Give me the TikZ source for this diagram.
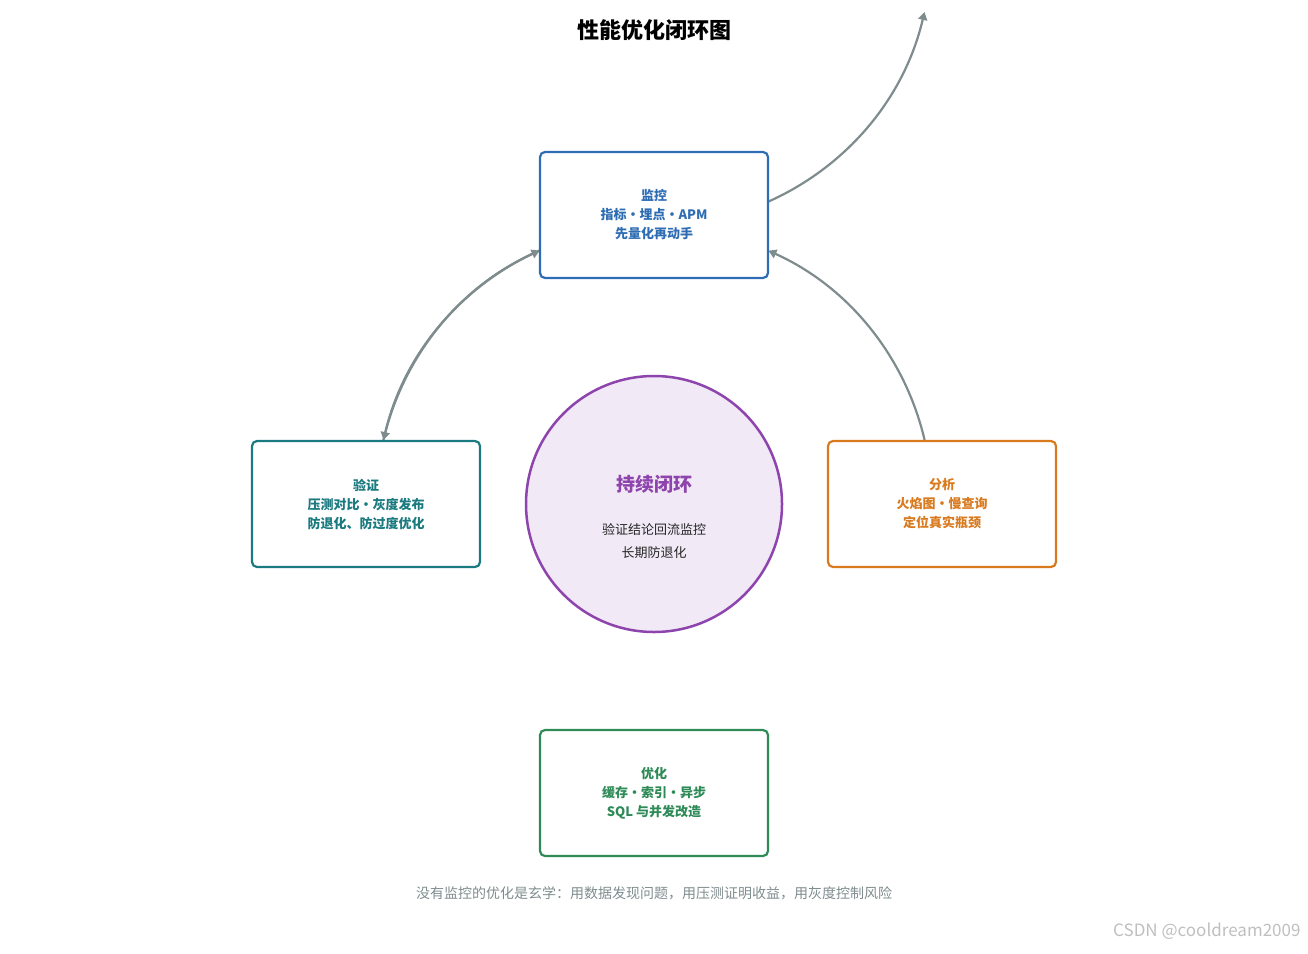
\documentclass[tikz,border=0pt]{standalone}
\usepackage{fontspec}
\setmainfont{Noto Sans CJK SC}
\usetikzlibrary{arrows.meta}
\definecolor{cb}{HTML}{2E6DB4}
\definecolor{co}{HTML}{D97A1E}
\definecolor{ct}{HTML}{1A7A80}
\definecolor{cg}{HTML}{2E8B57}
\definecolor{cp}{HTML}{8E44AD}
\definecolor{cpf}{HTML}{F1E9F6}
\definecolor{ca}{HTML}{7F8C8D}
\begin{document}
\begin{tikzpicture}[x=1pt,y=-1pt,
 box/.style={draw=#1,text=#1,line width=2.2pt,rounded corners=5pt,fill=white,minimum width=228pt,minimum height=126pt,align=center,font=\bfseries\fontsize{13}{19}\selectfont},
 arc/.style={draw=ca,line width=2.2pt,-{Triangle[length=8pt,width=9pt]}}]
\useasboundingbox (0,0) rectangle (1308,953);
\node[font=\bfseries\fontsize{22}{26}\selectfont] (title) at (654,30) {性能优化闭环图};
\coordinate (c) at (654,504);
\draw[arc] (c) ++(90:278 and -278) arc[start angle=90,end angle=13.3,radius=278];
\draw[arc] (c) ++(0:278) arc[start angle=0,end angle=-65.7,radius=278];
\draw[arc] (c) ++(-90:278) arc[start angle=-90,end angle=-166.7,radius=278];
\draw[arc] (c) ++(180:278) arc[start angle=180,end angle=245.7,radius=278];
\node[box=cb] (mon) at (654,215) {监控\\指标・埋点・APM\\先量化再动手};
\node[box=co] (ana) at (942,504) {分析\\火焰图・慢查询\\定位真实瓶颈};
\node[box=cg] (opt) at (654,793) {优化\\缓存・索引・异步\\SQL 与并发改造};
\node[box=ct] (ver) at (366,504) {验证\\压测对比・灰度发布\\防退化、防过度优化};
\node[circle,draw=cp,line width=2.5pt,fill=cpf,minimum size=256pt] (hub) at (c) {};
\node[text=cp,font=\bfseries\fontsize{19}{22}\selectfont] (hubt) at (654,484) {持续闭环};
\node[align=center,font=\fontsize{13}{23}\selectfont,text=black!85] (hubs) at (654,541) {验证结论回流监控\\长期防退化};
\node[text=ca,font=\fontsize{14}{18}\selectfont] (foot) at (654,893) {没有监控的优化是玄学：用数据发现问题，用压测证明收益，用灰度控制风险};
\node[text=black!25,font=\fontsize{17}{20}\selectfont,anchor=east] (wm) at (1304,931) {CSDN @cooldream2009};
\end{tikzpicture}
\end{document}
